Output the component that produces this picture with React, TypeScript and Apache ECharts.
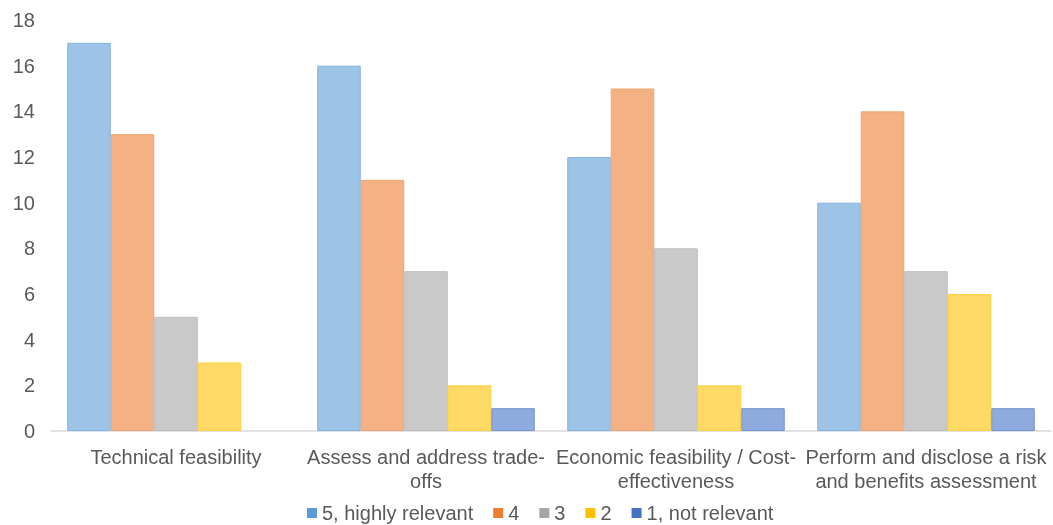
import React, { useEffect, useRef } from "react";
import * as echarts from "echarts";

const categories = [
  "Technical feasibility",
  "Assess and address trade-\noffs",
  "Economic feasibility / Cost-\neffectiveness",
  "Perform and disclose a risk\nand benefits assessment",
];
const seriesNames = ["5, highly relevant", "4", "3", "2", "1, not relevant"];
const v5 = [17, 16, 12, 10];
const v4 = [13, 11, 15, 14];
const v3 = [5, 7, 8, 7];
const v2 = [3, 2, 2, 6];
const v1 = [0, 1, 1, 1];
const seriesValues = [v5, v4, v3, v2, v1];

const legendColors = ["#5B9BD5", "#ED7D31", "#A5A5A5", "#FFC000", "#4472C4"];
const fillColors = ["#9DC3E6", "#F4B183", "#C9C9C9", "#FFD966", "#8FAADC"];
const borderColors = ["#82B2DF", "#F0A46F", "#BDBDBD", "#FFCF40", "#7393D6"];

export default function App() {
  const ref = useRef<HTMLDivElement>(null);
  useEffect(() => {
    if (!ref.current) return;
    const chart = echarts.init(ref.current, undefined, { renderer: "svg" });
    const font = "'Liberation Sans', Arial, sans-serif";
    chart.setOption({
      animation: false,
      textStyle: { fontFamily: font },
      grid: { left: 51, right: 2, top: 20, bottom: 94, containLabel: false },
      legend: {
        top: 503,
        left: 307,
        padding: 0,
        icon: "rect",
        itemWidth: 10,
        itemHeight: 10,
        itemGap: 20,
        textStyle: { color: "#595959", fontSize: 20, fontFamily: font },
        data: seriesNames.map((n, i) => ({
          name: n,
          itemStyle: { color: legendColors[i], borderWidth: 0 },
        })),
      },
      xAxis: {
        type: "category",
        data: categories,
        axisLine: { show: true, lineStyle: { color: "#D9D9D9", width: 1.5 } },
        axisTick: { show: false },
        axisLabel: {
          color: "#595959",
          fontSize: 20,
          fontFamily: font,
          margin: 14,
          lineHeight: 24,
          interval: 0,
        },
      },
      yAxis: {
        type: "value",
        min: 0,
        max: 18,
        interval: 2,
        axisLine: { show: false },
        axisTick: { show: false },
        splitLine: { show: false },
        axisLabel: { color: "#595959", fontSize: 20, fontFamily: font, margin: 16 },
      },
      series: seriesNames.map((name, i) => ({
        name,
        type: "bar",
        data: seriesValues[i].map((v) =>
          v === 0 ? { value: v, itemStyle: { borderWidth: 0 } } : v
        ),
        barGap: "0%",
        barCategoryGap: "13%",
        itemStyle: {
          color: fillColors[i],
          borderColor: borderColors[i],
          borderWidth: 1,
        },
      })),
    });
    return () => chart.dispose();
  }, []);
  return (
    <div
      ref={ref}
      style={{ position: "fixed", left: 0, top: 0, width: 1053, height: 525 }}
    />
  );
}
